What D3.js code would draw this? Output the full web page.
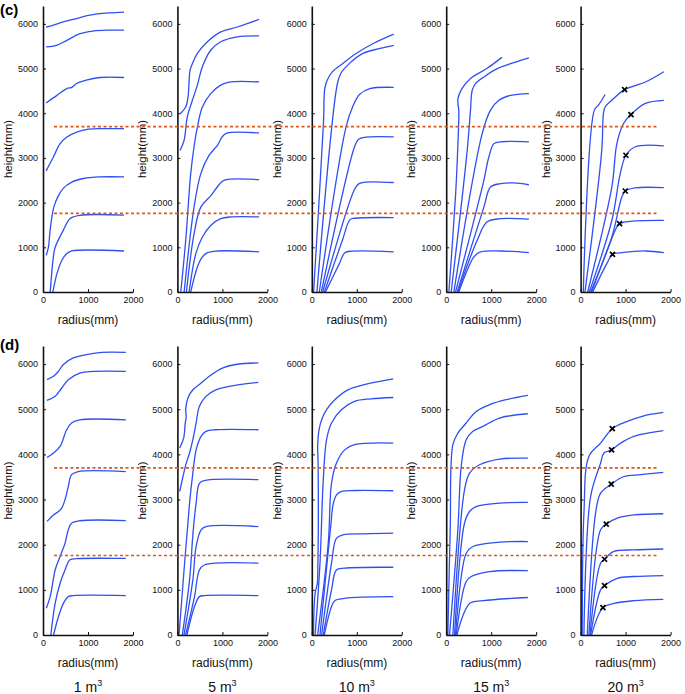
<!DOCTYPE html>
<html><head><meta charset="utf-8">
<script src="https://cdn.jsdelivr.net/npm/d3@7"></script>
<style>
body{margin:0;background:#fff}
svg{display:block}
text{font-family:"Liberation Sans",Arial,Helvetica,sans-serif}
</style>
</head><body><svg id="chart" width="685" height="694"></svg>
<script>
// ---------- categories / ticks ----------
const volumes = ["1", "5", "10", "15", "20"];
const xTicks = [0, 1000, 2000];
const yTicks = [0, 1000, 2000, 3000, 4000, 5000, 6000];
const refLines = [3700, 1760];
const rowLabels = ["(c)", "(d)"];

// ---------- row (c) : [radius mm, height mm] ----------
const c_1m3 = [
  [[70,5930],[200,5960],[450,6045],[745,6120],[1040,6195],[1470,6245],[1800,6265]],
  [[70,5485],[300,5520],[530,5630],[820,5780],[1110,5840],[1470,5860],[1800,5860]],
  [[70,4230],[310,4400],[530,4550],[640,4580],[750,4665],[960,4740],[1260,4800],[1800,4800]],
  [[70,2710],[230,3020],[380,3320],[530,3470],[750,3580],[960,3635],[1260,3655],[1800,3655]],
  [[70,820],[120,1000],[160,1400],[240,1900],[340,2150],[450,2320],[640,2460],[900,2540],[1250,2575],[1800,2575]],
  [[160,0],[230,780],[270,1000],[450,1380],[600,1640],[820,1715],[1800,1720]],
  [[220,0],[310,410],[420,710],[530,860],[640,918],[1800,918]]
];
const c_5m3 = [
  [[60,3990],[185,4140],[237,4370],[281,4960],[333,5110],[444,5340],[667,5600],[963,5820],[1333,5930],[1815,6100]],
  [[60,3170],[150,3400],[220,3920],[333,4290],[444,4630],[555,5040],[740,5410],[963,5600],[1333,5710],[1815,5730]],
  [[75,0],[185,1160],[296,2650],[370,3250],[444,3690],[555,4140],[740,4440],[963,4630],[1185,4700],[1815,4700]],
  [[150,0],[370,1900],[520,2650],[700,3050],[900,3300],[1000,3480],[1100,3555],[1815,3560]],
  [[200,0],[370,1300],[520,1900],[740,2150],[925,2400],[1037,2500],[1815,2515]],
  [[260,0],[410,860],[555,1230],[740,1490],[963,1640],[1185,1680],[1815,1680]],
  [[296,0],[444,560],[555,785],[667,880],[890,918],[1815,900]]
];
const c_10m3 = [
  [[40,0],[260,3800],[288,4550],[341,4740],[455,4925],[682,5110],[985,5336],[1364,5560],[1820,5770]],
  [[114,0],[568,4660],[644,4890],[833,5110],[1136,5340],[1515,5450],[1820,5520]],
  [[167,0],[760,3690],[910,4150],[1060,4420],[1290,4550],[1820,4580]],
  [[212,0],[950,3250],[1040,3420],[1200,3465],[1820,3470]],
  [[242,0],[950,2300],[1040,2420],[1200,2460],[1820,2450]],
  [[280,0],[680,1160],[850,1620],[950,1650],[1820,1665]],
  [[303,0],[610,630],[735,880],[900,915],[1820,900]]
];
const c_15m3 = [
  [[60,0],[210,2200],[260,3300],[280,4050],[260,4320],[350,4550],[540,4780],[900,5000],[1240,5250]],
  [[111,0],[467,3170],[540,4070],[578,4515],[652,4664],[837,4813],[1133,5000],[1430,5110],[1837,5240]],
  [[170,0],[800,3545],[985,4070],[1170,4290],[1430,4400],[1837,4440]],
  [[207,0],[837,2500],[948,3020],[1060,3320],[1210,3360],[1837,3360]],
  [[244,0],[837,1900],[985,2350],[1210,2425],[1500,2440],[1837,2400]],
  [[259,0],[689,1160],[911,1570],[1210,1640],[1837,1630]],
  [[281,0],[467,485],[615,785],[763,896],[1210,918],[1837,880]]
];
const c_20m3 = [
  [[60,0],[306,4070],[396,4180],[545,4420]],
  [[97,0],[470,3170],[507,3990],[545,4140],[694,4290],[978,4530],[1440,4700],[1850,4930]],
  [[157,0],[694,2350],[806,3320],[955,3770],[1119,3970],[1440,4220],[1850,4290]],
  [[194,0],[694,1600],[881,2650],[1007,3060],[1216,3250],[1850,3270]],
  [[224,0],[694,1230],[918,2130],[993,2260],[1216,2330],[1850,2335]],
  [[246,0],[619,1007],[806,1455],[866,1530],[1216,1590],[1850,1604]],
  [[269,0],[582,634],[709,843],[918,881],[1440,918],[1850,881]]
];
const c_20m3_marks = [[978,4530],[1119,3970],[1007,3060],[993,2260],[866,1530],[709,843]];

// ---------- row (d) ----------
const d_1m3 = [
  [[88,5655],[234,5730],[343,5840],[453,5990],[672,6135],[964,6210],[1255,6255],[1840,6258]],
  [[88,5195],[270,5285],[416,5470],[562,5655],[818,5800],[1110,5838],[1840,5840]],
  [[88,3930],[234,4030],[380,4175],[526,4545],[635,4695],[818,4765],[1840,4765]],
  [[88,2515],[234,2660],[343,2735],[416,2810],[489,2995],[562,3290],[635,3550],[781,3620],[1840,3620]],
  [[73,590],[160,850],[270,1440],[380,1740],[489,2030],[562,2330],[635,2475],[818,2530],[1840,2535]],
  [[175,0],[270,700],[380,1145],[489,1440],[599,1665],[745,1690],[1840,1695]],
  [[234,0],[343,405],[453,700],[562,850],[672,872],[1840,872]]
];
const d_5m3 = [
  [[51,4140],[139,4360],[175,4700],[195,4830],[185,5000],[234,5250],[343,5430],[489,5545],[708,5730],[1000,5910],[1292,5990],[1800,6025]],
  [[51,3180],[124,3510],[197,3805],[270,4030],[343,4325],[416,4695],[489,5065],[635,5285],[854,5430],[1146,5505],[1800,5595]],
  [[36,0],[270,2920],[343,3585],[416,4100],[526,4400],[635,4510],[854,4545],[1800,4545]],
  [[109,0],[270,1220],[350,2300],[416,2920],[489,3360],[599,3420],[1800,3440]],
  [[146,0],[343,1220],[416,1960],[526,2330],[635,2400],[1800,2400]],
  [[182,0],[380,850],[489,1440],[599,1550],[1800,1590]],
  [[212,0],[380,630],[489,850],[599,872],[1800,872]]
];
const d_10m3 = [
  [[36,0],[73,920],[124,1150],[135,1550],[146,2600],[140,3800],[131,4200],[161,4545],[219,4765],[328,4990],[511,5210],[803,5430],[1168,5545],[1810,5670]],
  [[73,0],[182,1590],[255,3440],[328,4325],[438,4695],[657,4990],[949,5175],[1314,5230],[1810,5260]],
  [[131,0],[365,2030],[438,3360],[547,3805],[730,4100],[949,4215],[1810,4250]],
  [[182,0],[420,2400],[475,2900],[547,3100],[657,3180],[949,3200],[1810,3195]],
  [[219,0],[438,1590],[547,2140],[693,2215],[1168,2240],[1810,2255]],
  [[255,0],[438,1000],[547,1440],[730,1480],[1810,1500]],
  [[277,0],[438,630],[511,760],[730,813],[1810,850]]
];
const d_15m3 = [
  [[37,0],[89,2330],[148,4215],[259,4470],[444,4695],[667,4950],[963,5100],[1333,5210],[1815,5305]],
  [[74,0],[259,2330],[333,3730],[444,4325],[593,4510],[815,4620],[1185,4805],[1815,4900]],
  [[148,0],[407,3215],[519,3585],[741,3770],[1185,3895],[1815,3915]],
  [[185,0],[407,2475],[519,2735],[667,2845],[1185,2920],[1815,2935]],
  [[207,0],[444,1810],[593,1960],[1185,2055],[1815,2070]],
  [[222,0],[444,1185],[556,1295],[963,1405],[1815,1425]],
  [[237,0],[519,700],[815,760],[1815,830]]
];
const d_20m3 = [
  [[37,0],[74,2700],[185,3955],[444,4250],[704,4570],[1037,4730],[1407,4855],[1837,4930]],
  [[74,0],[222,3065],[444,3805],[519,4030],[689,4100],[889,4250],[1185,4400],[1837,4525]],
  [[148,0],[333,2700],[444,3140],[681,3340],[963,3510],[1333,3550],[1837,3600]],
  [[185,0],[444,2330],[570,2455],[815,2590],[1185,2660],[1837,2685]],
  [[207,0],[444,1590],[533,1678],[741,1850],[1185,1885],[1837,1905]],
  [[222,0],[444,1000],[533,1094],[815,1255],[1185,1295],[1837,1315]],
  [[244,0],[496,606],[741,700],[1185,760],[1837,790]]
];
const d_20m3_marks = [[704,4570],[689,4100],[681,3340],[570,2455],[533,1678],[533,1094],[496,606]];

const rowData = [
  [c_1m3, c_5m3, c_10m3, c_15m3, c_20m3],
  [d_1m3, d_5m3, d_10m3, d_15m3, d_20m3]
];
const rowMarks = [c_20m3_marks, d_20m3_marks];

// ---------- layout ----------
const svg = d3.select("#chart");
const rowsGeom = [
  {bottom: 292, top: 6, labelY: 15},
  {bottom: 635, top: 346, labelY: 350}
];
const panelX0 = i => 43 + i * 134.4;
const panelW = 90;
const blue = "#2f4ff2";
const red = "#e0581c";

rowsGeom.forEach((rg, ri) => {
  const y = d3.scaleLinear().domain([0, 6400]).range([rg.bottom, rg.top]);

  svg.append("text").attr("x", 0).attr("y", rg.labelY)
    .attr("font-size", 15).attr("font-weight", "bold").text(rowLabels[ri]);

  volumes.forEach((v, pi) => {
    const x0 = panelX0(pi);
    const x = d3.scaleLinear().domain([0, 2000]).range([x0, x0 + panelW]);
    const g = svg.append("g");

    // curves
    const line = d3.line().x(d => x(d[0])).y(d => y(d[1]))
      .curve(d3.curveCatmullRom.alpha(0.5));
    g.selectAll("path.curve").data(rowData[ri][pi]).enter().append("path")
      .attr("class", "curve").attr("d", line)
      .attr("fill", "none").attr("stroke", blue).attr("stroke-width", 1.3);

    // axes
    const xa = g.append("g").attr("transform", `translate(0,${rg.bottom})`)
      .call(d3.axisBottom(x).tickValues(xTicks).tickSizeInner(-3).tickSizeOuter(0).tickPadding(5).tickFormat(d3.format("d")));
    const ya = g.append("g").attr("transform", `translate(${x0},0)`)
      .call(d3.axisLeft(y).tickValues(yTicks).tickSizeInner(-3).tickSizeOuter(0).tickPadding(5).tickFormat(d3.format("d")));
    [xa, ya].forEach(a => {
      a.selectAll("text").attr("font-size", 9).attr("fill", "#111")
        .style("font-family", '"Liberation Sans",Arial,sans-serif');
      a.select(".domain").attr("stroke", "#111").attr("stroke-width", 1.6);
      a.selectAll(".tick line").attr("stroke", "#111");
    });

    // axis titles
    g.append("text").attr("transform", `translate(${x0 - 31},${(rg.top + rg.bottom) / 2}) rotate(-90)`)
      .attr("text-anchor", "middle").attr("font-size", 11.5).attr("fill", "#111").text("height(mm)");
    g.append("text").attr("x", x0 + panelW / 2).attr("y", rg.bottom + 32)
      .attr("text-anchor", "middle").attr("font-size", 12).attr("fill", "#111").text("radius(mm)");

    // markers on last panel
    if (pi === 4) {
      g.selectAll("path.mk").data(rowMarks[ri]).enter().append("path")
        .attr("class", "mk")
        .attr("transform", d => `translate(${x(d[0])},${y(d[1])})`)
        .attr("d", "M-2.5,-2.5L2.5,2.5M-2.5,2.5L2.5,-2.5")
        .attr("stroke", "#000").attr("stroke-width", 1.7);
    }

    // volume labels under bottom row
    if (ri === 1) {
      const t = svg.append("text").attr("x", x0 + panelW / 2).attr("y", 692)
        .attr("text-anchor", "middle").attr("font-size", 14).attr("fill", "#111");
      t.append("tspan").text(v + " m");
      t.append("tspan").attr("font-size", 9).attr("dy", -6).text("3");
    }
  });

  // reference dashed lines spanning all panels
  svg.selectAll(null).data(refLines).enter().append("line")
    .attr("x1", 54).attr("x2", 657)
    .attr("y1", d => y(d)).attr("y2", d => y(d))
    .attr("stroke", red).attr("stroke-width", 1.6).attr("stroke-dasharray", "3,2.5");
});
</script>
</body></html>
